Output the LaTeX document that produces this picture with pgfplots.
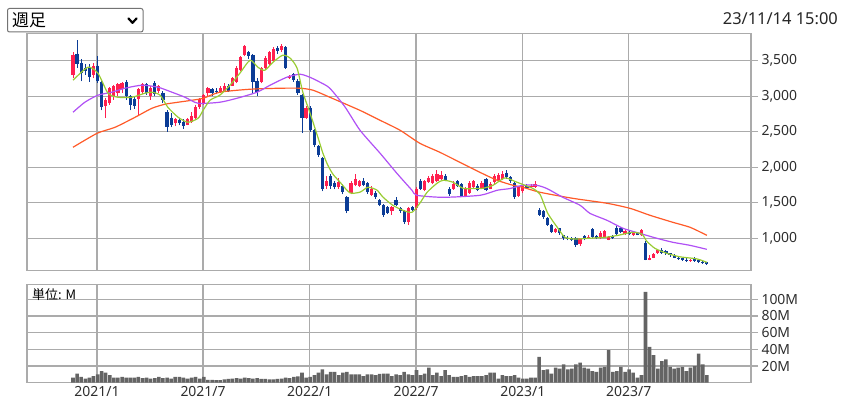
\documentclass[border=0pt]{standalone}
\usepackage{pgfplots}
\pgfplotsset{compat=1.18}
\usepackage{pgfplotstable}
\usepackage{fontspec}
\setmainfont{Noto Sans}
\newfontfamily\cjk{Noto Sans CJK JP}

\definecolor{upc}{HTML}{FF1F4F}
\definecolor{dnc}{HTML}{0B3C96}
\definecolor{maA}{HTML}{99CC33}
\definecolor{maB}{HTML}{B050F5}
\definecolor{maC}{HTML}{FF5A28}
\definecolor{gridc}{HTML}{ABABAB}
\definecolor{volc}{HTML}{646464}

% weekly candles, x = week index (0 = late Nov 2020)
\pgfplotstableread{
i O H L C
0 3300 3620 3250 3580
5 3300 3460 3250 3420
8 2860 2980 2690 2950
9 2900 3130 2880 3110
10 3000 3160 2950 3140
11 3050 3190 3000 3170
12 3100 3200 3050 3190
16 2960 3120 2740 3100
17 3060 3180 3030 3170
19 3000 3150 2950 3120
21 3080 3160 3040 3140
25 2620 2700 2580 2680
28 2600 2700 2590 2680
29 2640 2780 2620 2720
30 2700 2870 2680 2850
31 2850 2980 2820 2960
32 2900 3030 2880 3010
33 3040 3130 3000 3110
36 3060 3140 3040 3120
37 3080 3180 3060 3150
39 3150 3270 3140 3250
40 3200 3420 3180 3390
41 3370 3570 3350 3550
42 3580 3720 3560 3700
46 3200 3410 3180 3390
47 3400 3560 3380 3540
48 3450 3640 3430 3620
49 3500 3690 3480 3670
51 3650 3740 3620 3710
53 3250 3300 3240 3290
57 2700 2860 2680 2830
62 1740 1880 1700 1810
65 1720 1850 1700 1790
68 1640 1800 1620 1780
69 1750 1900 1730 1830
70 1740 1820 1720 1800
73 1610 1730 1600 1700
78 1380 1460 1330 1440
82 1230 1440 1190 1420
84 1420 1720 1400 1700
86 1680 1820 1660 1800
87 1790 1880 1780 1850
88 1780 1900 1760 1880
89 1800 1960 1790 1900
90 1840 1950 1820 1890
93 1700 1800 1680 1760
96 1600 1720 1580 1700
97 1640 1800 1630 1780
98 1720 1820 1700 1800
100 1700 1800 1690 1780
102 1700 1790 1690 1760
103 1790 1900 1770 1880
104 1820 1920 1800 1890
105 1840 1950 1820 1910
109 1600 1740 1580 1720
110 1660 1760 1640 1740
112 1720 1760 1710 1740
113 1720 1800 1710 1760
118 1090 1150 1080 1130
124 920 1010 890 1000
126 1000 1040 990 1020
129 1000 1100 990 1080
130 1020 1120 1010 1100
131 980 1030 970 1020
135 1060 1130 1050 1110
137 1040 1100 1030 1090
139 1040 1130 1030 1120
141 700 760 690 730
142 730 790 720 780
143 790 850 780 830
151 680 710 670 700
}\upcandles

\pgfplotstableread{
i O H L C
1 3600 3790 3400 3450
2 3460 3520 3210 3330
3 3400 3450 3300 3350
4 3400 3450 3200 3270
6 3430 3560 3180 3220
7 3200 3230 2800 2850
13 3200 3230 2950 3000
14 3000 3020 2800 2880
15 2960 3000 2820 2860
18 3170 3190 3020 3050
20 3190 3220 3000 3030
22 3050 3080 2900 2940
23 2780 2800 2500 2560
24 2700 2760 2560 2600
26 2660 2700 2590 2620
27 2640 2680 2540 2580
34 3100 3120 3000 3040
35 3080 3120 3030 3060
38 3140 3170 3060 3080
43 3620 3640 3520 3560
44 3580 3600 3050 3200
45 3220 3250 3000 3060
50 3680 3700 3600 3640
52 3690 3710 3380 3400
54 3310 3330 3200 3230
55 3220 3240 3020 3050
56 3010 3030 2480 2700
58 2840 2860 2500 2520
59 2520 2540 2280 2310
60 2300 2320 2150 2170
61 2130 2140 1660 1700
63 1870 1900 1700 1730
64 1780 1800 1690 1720
66 1740 1760 1620 1650
67 1580 1600 1350 1380
71 1800 1850 1730 1750
72 1780 1790 1630 1650
74 1640 1660 1560 1580
75 1540 1560 1450 1470
76 1470 1480 1300 1330
77 1440 1460 1340 1360
79 1540 1580 1450 1470
80 1420 1440 1360 1380
81 1390 1400 1200 1230
83 1440 1460 1380 1400
85 1800 1840 1680 1700
91 1880 1900 1800 1820
92 1700 1720 1600 1620
94 1800 1820 1720 1740
95 1760 1780 1580 1600
99 1740 1760 1660 1680
101 1830 1850 1660 1680
106 1920 1960 1840 1860
107 1860 1880 1780 1800
108 1780 1790 1560 1580
111 1735 1760 1700 1715
114 1400 1420 1320 1330
115 1380 1400 1270 1300
116 1290 1300 1180 1190
117 1190 1200 1080 1090
119 1140 1150 1050 1070
120 1040 1050 980 1000
121 1010 1030 970 990
122 1000 1020 960 980
123 1010 1020 880 900
125 1030 1040 970 990
127 1130 1140 1000 1020
128 1030 1050 990 1010
132 1030 1040 990 1010
133 1150 1170 1040 1060
134 1140 1160 1070 1090
136 1090 1110 1040 1060
138 1080 1090 1040 1050
140 940 960 690 700
144 830 860 780 800
145 820 840 770 790
146 790 800 740 760
147 760 780 720 730
148 730 750 700 710
149 720 730 680 690
150 700 720 670 680
152 710 740 670 680
153 690 700 650 670
154 670 680 640 650
155 660 670 630 640
}\downcandles

% 13-week moving average
\pgfplotstableread{
x y
0 3225
3.67 3408
6.11 3323
8.56 3042
11 2985
14.4 2985
17.6 3042
19.3 3056
21.3 3014
23.2 2844
25.7 2704
28.1 2633
30.6 2690
31.8 2800
33.5 2943
35.9 3014
38.4 3155
40.8 3323
43.3 3506
45.2 3408
46.9 3365
48.9 3478
51.3 3577
53.1 3535
54.8 3394
56.2 3056
57.9 2774
59.9 2420
61.1 2200
62.3 2030
63.6 1900
65.3 1790
67.7 1640
70.2 1650
72.1 1718
74.3 1680
75.8 1580
78.2 1465
80.7 1394
82.9 1366
84.8 1493
86.6 1648
89.0 1774
90.5 1817
92.9 1790
95.4 1704
97.8 1700
100.2 1704
102.7 1746
105.6 1850
108.1 1800
110.5 1746
112.5 1700
114.2 1620
116.1 1352
118.6 1141
120.3 1014
122.7 990
125.9 1000
130.1 1014
133.3 1042
136.7 1084
139.1 1060
140.3 960
142.3 859
145.2 789
148.4 740
152.6 710
155 662
}\maone

% 26-week moving average
\pgfplotstableread{
x y
0 2774
2.9 2915
6.1 3014
9.5 3056
12.7 3112
16.9 3155
20.8 3126
24.2 3056
27.4 2985
30.6 2900
35.9 2915
40.1 2971
45.0 3056
48.2 3155
52.3 3267
55.5 3309
57.9 3267
60.4 3197
62.8 3112
66.5 2850
70.2 2520
75.1 2197
79.2 1915
82.9 1676
84.1 1605
90.5 1577
99.5 1605
103.7 1676
106.8 1700
110.0 1746
113.4 1746
115.9 1700
119.8 1577
124.0 1465
126.4 1352
130.6 1253
134.5 1141
138.6 1070
142.8 1000
146.7 944
150.9 901
155.0 845
}\matwo

% 52-week moving average
\pgfplotstableread{
x y
0 2281
5.9 2478
10.3 2563
15.2 2704
19.3 2830
22.5 2887
25.7 2915
29.1 2943
31.8 2970
35.9 3056
43.3 3098
50.6 3112
55.5 3112
58.7 3084
62.8 2985
70.2 2800
75.1 2661
80.0 2520
84.8 2338
89.7 2211
94.6 2070
99.5 1929
103.7 1817
107.6 1746
110.0 1718
114.2 1648
122.2 1563
130.6 1493
136.2 1422
141.1 1324
146.7 1225
150.9 1155
155.0 1042
}\mathree

% weekly volume, millions
\pgfplotstableread{
i V
0 6
1 11
2 7
3 5
4 6
5 8
6 10
7 14
8 12
9 9
10 6
11 6
12 7
13 6
14 6
15 6
16 7
17 5.5
18 6
19 5
20 5.5
21 7
22 5.5
23 6
24 5
25 7
26 7
27 6
28 5
29 6
30 7
31 5
32 7
33 3.5
34 3.5
35 3
36 3
37 4
38 4.5
39 5
40 5.5
41 5
42 6
43 5.5
44 5
45 5.5
46 4.5
47 4.5
48 4
49 4
50 4.5
51 5
52 6
53 5.5
54 7
55 7.5
56 12
57 6
58 7
59 9
60 12
61 16
62 10
63 13
64 13
65 9
66 12
67 13
68 10
69 10
70 10
71 8
72 10
73 10
74 9
75 10.5
76 11
77 11
78 8
79 10
80 9
81 13
82 10
83 9
84 15
85 9
86 11
87 18
88 9
89 12
90 8
91 15
92 9
93 7
94 7
95 8
96 9
97 7
98 8
99 8
100 8
101 9
102 12
103 12
104 5
105 9
106 8
107 8
108 9
109 6
110 5
111 5
112 6
113 6
114 31
115 15
116 16
117 11
118 18
119 17
120 22
121 16
122 17
123 22
124 24
125 18
126 17
127 14
128 13
129 18
130 19
131 39
132 13
133 14
134 19
135 13
136 16
137 12
138 6
139 9
140 109
141 43
142 33
143 17
144 26
145 28
146 19
147 17
148 18
149 19
150 14
151 18
152 20
153 35
154 22
155 9
}\volume

\pgfplotsset{
  chartbase/.style={
    scale only axis, anchor=south west, width=724bp,
    xmin=-11.25, xmax=165.8,
    xtick={5.87,31.8,57.9,83.9,110.0,135.9},
    grid=major, grid style={gridc, line width=1.3bp},
    axis line style={gridc, line width=1.3bp},
    ytick pos=right, yticklabel pos=right,
    xtick style={draw=none},
    ytick style={gridc, line width=1.3bp},
    tick align=outside, major tick length=7bp,
    tick label style={font=\fontsize{14}{16}\selectfont, text=black!82},
    /pgf/number format/assume math mode=true,
  }
}

\begin{document}
\begin{tikzpicture}
\path[use as bounding box] (0,0) rectangle (841bp,399bp);

% price panel
\begin{axis}[chartbase,
  at={(27bp,128.7bp)}, height=237bp,
  ymin=550, ymax=3885,
  ytick={1000,1500,2000,2500,3000,3500},
  yticklabels={{1,000},{1,500},{2,000},{2,500},{3,000},{3,500}},
  xticklabels={},
]
\addplot[draw=upc, line width=1bp, quiver={u=0, v={\thisrow{H}-\thisrow{L}}}] table[x=i, y=L] {\upcandles};
\addplot[draw=dnc, line width=1bp, quiver={u=0, v={\thisrow{H}-\thisrow{L}}}] table[x=i, y=L] {\downcandles};
\addplot[draw=upc, line width=3.2bp, quiver={u=0, v={\thisrow{C}-\thisrow{O}}}] table[x=i, y=O] {\upcandles};
\addplot[draw=dnc, line width=3.2bp, quiver={u=0, v={\thisrow{C}-\thisrow{O}}}] table[x=i, y=O] {\downcandles};
\addplot[maC, line width=1.2bp, smooth, tension=0.4] table[x=x, y=y] {\mathree};
\addplot[maB, line width=1.2bp, smooth, tension=0.4] table[x=x, y=y] {\matwo};
\addplot[maA, line width=1.2bp, smooth, tension=0.4] table[x=x, y=y] {\maone};
\end{axis}

% volume panel
\begin{axis}[chartbase,
  at={(27bp,16.3bp)}, height=98.4bp,
  ymin=0, ymax=118,
  ytick={20,40,60,80,100},
  yticklabels={20M,40M,60M,80M,100M},
  xticklabels={2021/1,2021/7,2022/1,2022/7,2023/1,2023/7},
  xticklabel style={yshift=7bp},
]
\addplot[ybar, bar width=0.86, fill=volc, draw=none] table[x=i, y=V] {\volume};
\end{axis}

\node[anchor=west, inner sep=0pt, font=\fontsize{13}{15}\selectfont] at (32bp,104.5bp) {\cjk 単位: M};

% selector box
\draw[draw=black!55, line width=1bp, rounded corners=2bp] (7.5bp,367bp) rectangle (143bp,390.5bp);
\node[anchor=west, inner sep=0pt, font=\fontsize{17}{19}\selectfont] at (12bp,378.5bp) {\cjk 週足};
\draw[line width=2.2bp, line cap=round, line join=round] (128.5bp,380.5bp) -- (132.5bp,376.2bp) -- (136.5bp,380.5bp);

% timestamp
\node[anchor=east, inner sep=0pt, font=\fontsize{16.5}{18}\selectfont, text=black!85] at (838bp,380bp) {23/11/14 15:00};
\end{tikzpicture}
\end{document}
